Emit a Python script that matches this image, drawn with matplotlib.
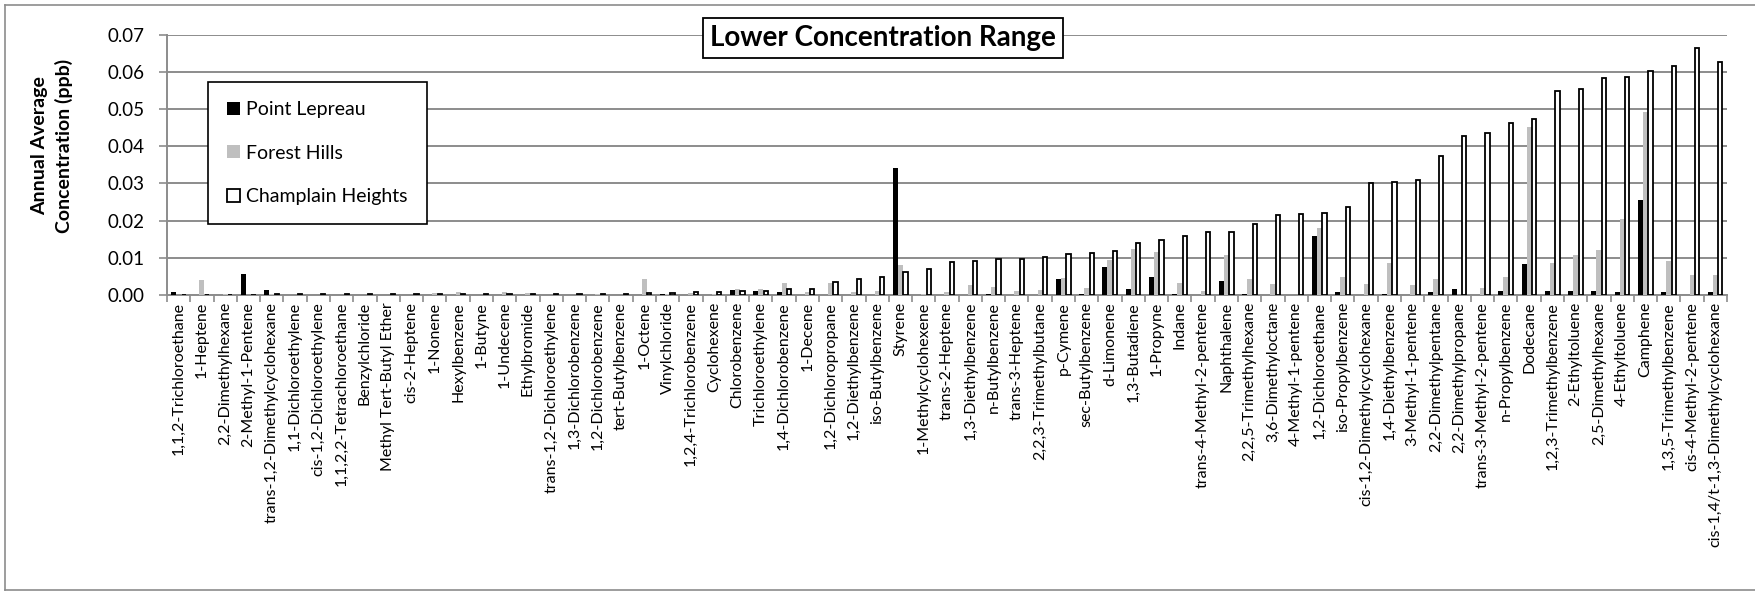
import matplotlib
matplotlib.use("Agg")
import matplotlib.pyplot as plt
import numpy as np
from matplotlib.lines import Line2D

plt.rcParams['font.family'] = ['Lato', 'DejaVu Sans']

# compounds along the x axis
compounds = [
    "1,1,2-Trichloroethane", "1-Heptene", "2,2-Dimethylhexane", "2-Methyl-1-Pentene",
    "trans-1,2-Dimethylcyclohexane", "1,1-Dichloroethylene", "cis-1,2-Dichloroethylene",
    "1,1,2,2-Tetrachloroethane", "Benzylchloride", "Methyl Tert-Butyl Ether", "cis-2-Heptene",
    "1-Nonene", "Hexylbenzene", "1-Butyne", "1-Undecene", "Ethylbromide",
    "trans-1,2-Dichloroethylene", "1,3-Dichlorobenzene", "1,2-Dichlorobenzene",
    "tert-Butylbenzene", "1-Octene", "Vinylchloride", "1,2,4-Trichlorobenzene", "Cyclohexene",
    "Chlorobenzene", "Trichloroethylene", "1,4-Dichlorobenzene", "1-Decene",
    "1,2-Dichloropropane", "1,2-Diethylbenzene", "iso-Butylbenzene", "Styrene",
    "1-Methylcyclohexene", "trans-2-Heptene", "1,3-Diethylbenzene", "n-Butylbenzene",
    "trans-3-Heptene", "2,2,3-Trimethylbutane", "p-Cymene", "sec-Butylbenzene", "d-Limonene",
    "1,3-Butadiene", "1-Propyne", "Indane", "trans-4-Methyl-2-pentene", "Naphthalene",
    "2,2,5-Trimethylhexane", "3,6-Dimethyloctane", "4-Methyl-1-pentene", "1,2-Dichloroethane",
    "iso-Propylbenzene", "cis-1,2-Dimethylcyclohexane", "1,4-Diethylbenzene",
    "3-Methyl-1-pentene", "2,2-Dimethylpentane", "2,2-Dimethylpropane",
    "trans-3-Methyl-2-pentene", "n-Propylbenzene", "Dodecane", "1,2,3-Trimethylbenzene",
    "2-Ethyltoluene", "2,5-Dimethylhexane", "4-Ethyltoluene", "Camphene",
    "1,3,5-Trimethylbenzene", "cis-4-Methyl-2-pentene", "cis-1,4/t-1,3-Dimethylcyclohexane",
]

# annual average concentration (ppb)
point_lepreau = [
    0.0008, 0.0, 0.0, 0.0056, 0.0014, 0.0, 0.0, 0.0, 0.0, 0.0, 0.0,
    0.0, 0.0, 0.0, 0.0, 0.0, 0.0, 0.0, 0.0, 0.0, 0.0, 0.0003, 0.0, 0.0,
    0.0013, 0.0010, 0.0008, 0.0, 0.0, 0.0, 0.0, 0.0340,
    0.0, 0.0, 0.0, 0.0002, 0.0, 0.0, 0.0044, 0.0002, 0.0074,
    0.0015, 0.0049, 0.0003, 0.0, 0.0038, 0.0004, 0.0, 0.0, 0.0159,
    0.0008, 0.0, 0.0003, 0.0, 0.0008, 0.0016, 0.0, 0.0011, 0.0083, 0.0011,
    0.0010, 0.0010, 0.0009, 0.0255, 0.0007, 0.0, 0.0007,
]
forest_hills = [
    0.0, 0.0040, 0.0002, 0.0, 0.0002, 0.0001, 0.0001, 0.0001, 0.0001, 0.0001, 0.0001,
    0.0006, 0.0007, 0.0001, 0.0008, 0.0005, 0.0001, 0.0001, 0.0002, 0.0001, 0.0044, 0.0002,
    0.0006, 0.0002, 0.0017, 0.0017, 0.0032, 0.0008, 0.0032, 0.0007, 0.0012, 0.0080,
    0.0002, 0.0008, 0.0027, 0.0022, 0.0010, 0.0013, 0.0045, 0.0018, 0.0094,
    0.0123, 0.0115, 0.0032, 0.0012, 0.0107, 0.0044, 0.0029, 0.0001, 0.0180,
    0.0048, 0.0029, 0.0087, 0.0028, 0.0043, 0.0, 0.0020, 0.0048, 0.0451, 0.0086,
    0.0107, 0.0120, 0.0203, 0.0492, 0.0091, 0.0054, 0.0054,
]
champlain_heights = [
    0.0, 0.0, 0.0, 0.0, 0.0002, 0.0002, 0.0002, 0.0002, 0.0002, 0.0002, 0.0002,
    0.0003, 0.0003, 0.0003, 0.0004, 0.0002, 0.0003, 0.0003, 0.0004, 0.0004, 0.0005, 0.0006,
    0.0007, 0.0009, 0.0012, 0.0012, 0.0015, 0.0016, 0.0036, 0.0042, 0.0048, 0.0063,
    0.0071, 0.0088, 0.0091, 0.0096, 0.0098, 0.0103, 0.0109, 0.0114, 0.0119,
    0.0140, 0.0147, 0.0158, 0.0168, 0.0169, 0.0191, 0.0215, 0.0219, 0.0220,
    0.0237, 0.0301, 0.0304, 0.0309, 0.0374, 0.0426, 0.0434, 0.0463, 0.0472, 0.0547,
    0.0553, 0.0583, 0.0587, 0.0602, 0.0616, 0.0663, 0.0625,
]

fig = plt.figure(figsize=(17.56, 5.94), dpi=100)
ax = fig.add_axes([167 / 1756, 1 - 295 / 594, 1560 / 1756, 260.5 / 594])

x = np.arange(len(compounds))
w = 0.215
ax.bar(x - w, point_lepreau, w, color='black', label='Point Lepreau', zorder=3)
ax.bar(x, forest_hills, w, color='#bfbfbf', label='Forest Hills', zorder=3)
ax.bar(x + w, champlain_heights, w * 0.85, color='white', edgecolor='black',
       linewidth=1.3, label='Champlain Heights', zorder=3)

ax.set_xlim(-0.5, len(compounds) - 0.5)
ax.set_ylim(0, 0.07)
ax.set_yticks(np.arange(0, 0.071, 0.01))
ax.set_yticklabels([f"{v:.2f}" for v in np.arange(0, 0.071, 0.01)], fontsize=13.5)
ax.yaxis.grid(True, color='#8c8c8c', linewidth=1.4, zorder=0)
ax.set_axisbelow(True)

ax.set_xticks(x)
ax.set_xticklabels(compounds, rotation=90, fontsize=11.5, va='top', ha='center')
ax.set_xticks(np.arange(-0.5, len(compounds)), minor=True)
ax.tick_params(axis='x', which='major', length=0, pad=5)
ax.tick_params(axis='x', which='minor', length=5, color='#8c8c8c', width=1.2)
ax.tick_params(axis='y', length=6, color='#8c8c8c', width=1.2, pad=10)

for side in ['top', 'right']:
    ax.spines[side].set_visible(False)
for side in ['left', 'bottom']:
    ax.spines[side].set_color('#8c8c8c')
    ax.spines[side].set_linewidth(1.4)

fig.text(52 / 1756, 1 - 146 / 594, "Annual Average\nConcentration (ppb)", rotation=90,
         ha='center', va='center', fontsize=14, fontweight='bold', multialignment='center',
         linespacing=1.4)

fig.text(883 / 1756, 1 - 38 / 594, "Lower Concentration Range", ha='center', va='center',
         fontsize=20, fontweight='bold',
         bbox=dict(boxstyle='square,pad=0.25', facecolor='white', edgecolor='black', linewidth=1.3))

leg = ax.legend(loc='upper left', bbox_to_anchor=(208 / 1756, 1 - 82 / 594),
                bbox_transform=fig.transFigure, fontsize=14, frameon=True, fancybox=False,
                edgecolor='black', labelspacing=1.35, handlelength=0.65, handleheight=0.65,
                handletextpad=0.3, borderpad=1.0, borderaxespad=0)
leg.get_frame().set_linewidth(1.2)
leg.get_frame().set_alpha(1)

# chart border (left, top, bottom)
border = dict(color='#8c8c8c', linewidth=1.2, transform=fig.transFigure)
fig.lines.append(Line2D([0.003, 0.003], [0.006, 0.992], **border))
fig.lines.append(Line2D([0.003, 1.0], [0.992, 0.992], **border))
fig.lines.append(Line2D([0.003, 1.0], [0.006, 0.006], **border))

fig.savefig("out.png", dpi=100)
